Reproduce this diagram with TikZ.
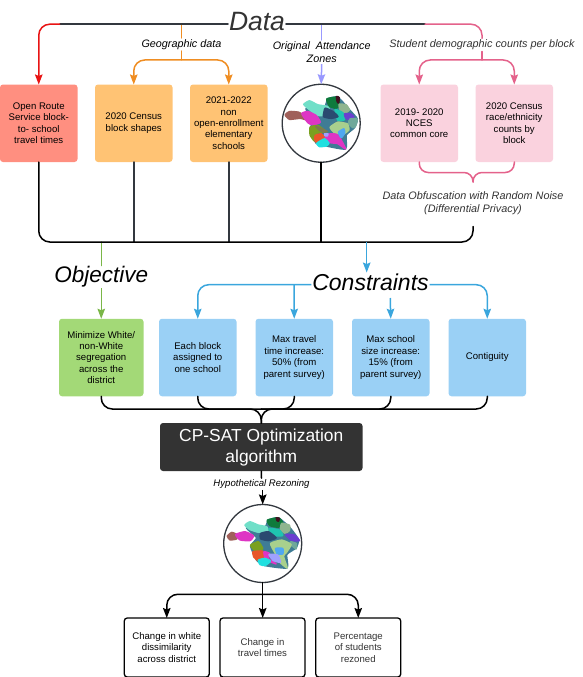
\documentclass[tikz,border=0pt]{standalone}
\usepackage{fontspec}
\setmainfont{Liberation Sans}
\usepackage{xcolor}
\usepackage{tikz}
\usetikzlibrary{arrows.meta,positioning}
\definecolor{ink}{HTML}{33383F}
\definecolor{coal}{HTML}{333333}
\definecolor{redline}{HTML}{E81313}
\definecolor{redfill}{HTML}{FF8F80}
\definecolor{orangeline}{HTML}{EF8D22}
\definecolor{orangefill}{HTML}{FFC374}
\definecolor{pinkline}{HTML}{E4628B}
\definecolor{pinkfill}{HTML}{FAD2DE}
\definecolor{greenline}{HTML}{7AB648}
\definecolor{greenfill}{HTML}{A3D977}
\definecolor{blueline}{HTML}{3AA6DD}
\definecolor{bluefill}{HTML}{9AD0F5}
\definecolor{zoneline}{HTML}{9999FF}
\definecolor{mbrown}{HTML}{A0605A}
\definecolor{mmagenta}{HTML}{DE35C4}
\definecolor{maqua}{HTML}{70DFC8}
\definecolor{mgreen}{HTML}{0E7A3C}
\definecolor{mdark}{HTML}{401020}
\definecolor{msage}{HTML}{8FB58F}
\definecolor{mteal}{HTML}{1FC4B0}
\definecolor{mnavy}{HTML}{2A4A70}
\definecolor{msteel}{HTML}{3F7C95}
\definecolor{mpurple}{HTML}{6A3FD0}
\definecolor{mgrey}{HTML}{6FA89A}
\definecolor{mlime}{HTML}{A8D08D}
\definecolor{molive}{HTML}{7AA020}
\definecolor{mumber}{HTML}{7D7A50}
\definecolor{morange}{HTML}{E8562A}
\definecolor{msky}{HTML}{4FA8F0}
\definecolor{mlav}{HTML}{A0A0FF}
\definecolor{mcyan}{HTML}{20E0E0}
\tikzset{
  box/.style={rectangle, rounded corners=3pt, align=center, outer sep=0pt, inner sep=1pt,
              minimum width=77.5pt, minimum height=77.5pt, font=\fontsize{9.6}{11.4}\selectfont},
  redbox/.style={box, fill=redfill},
  orangebox/.style={box, fill=orangefill},
  pinkbox/.style={box, fill=pinkfill},
  greenbox/.style={box, fill=greenfill, minimum width=84.5pt},
  bluebox/.style={box, fill=bluefill},
  outbox/.style={box, draw=black, fill=white, line width=1.3pt, minimum width=85pt, minimum height=59pt},
  algbox/.style={box, fill=coal, text=white, minimum width=202.5pt, minimum height=48pt,
                 font=\fontsize{17.4}{21}\selectfont},
  mapring/.style={circle, draw=ink, line width=1.3pt, minimum size=78pt, outer sep=0pt, inner sep=0pt},
  lbl/.style={fill=white, align=center, inner sep=1.5pt, outer sep=0pt,
              font=\fontsize{10.8}{13.2}\selectfont\itshape},
  head/.style={fill=white, inner sep=1pt, outer sep=0pt, font=\fontsize{23}{26}\selectfont\itshape},
  flow/.style={-{Stealth[length=10pt,width=7.5pt,inset=1.5pt]}, line width=1.5pt, rounded corners=11pt},
  wire/.style={line width=1.5pt, line cap=round, rounded corners=11pt},
  blob/.style={line join=round, line width=1.6pt}
}
\newcommand{\mapblob}[2]{\filldraw[blob,#1] plot[smooth cycle, tension=.3] coordinates {#2};}
\begin{document}
\begin{tikzpicture}[x=1pt, y=-1pt]
 \useasboundingbox (0,0) rectangle (582,677);
 % data row
 \node[head, text=coal, font=\fontsize{26.5}{30}\selectfont\itshape] (data) at (257,22) {Data};
 \node[redbox] (ors) at (38.75,123.25) {Open Route\\Service block-\\to- school\\travel times};
 \node[orangebox, right=17.5pt of ors] (shapes) {2020 Census\\block shapes};
 \node[orangebox, right=17.5pt of shapes] (schools) {2021-2022\\non\\open-enrollment\\elementary\\schools};
 \node[mapring, right=14.7pt of schools] (zones) {};
 \node[pinkbox, right=20.3pt of zones] (nces) {2019- 2020\\NCES\\common core};
 \node[pinkbox, right=17.5pt of nces] (race) {2020 Census\\race/ethnicity\\counts by\\block};
 \node[lbl] (geo) at (181.5,44.5) {Geographic data};
 \node[lbl] (orig) at (321.7,52) {Original\ \ Attendance\\Zones};
 \node[lbl, text=coal, font=\fontsize{10.85}{13.2}\selectfont\itshape] (counts) at (482,45) {Student demographic counts per block};
 \node[lbl, text=coal, font=\fontsize{10.85}{13.2}\selectfont\itshape] (noise) at (473,203) {Data Obfuscation with Random Noise\\(Differential Privacy)};
 \coordinate (redstart) at (60,24.2);
 \coordinate (pinkstart) at (425,24.2);
 \coordinate (geotop) at (181.5,24.2);
 \coordinate (origtop) at (321.7,24.2);
 \coordinate (counttop) at (482,24.2);
 \coordinate (geosplit) at (181.5,60);
 \coordinate (countsplit) at (482,60);
 \coordinate (noisejoin) at (473,172.5);
 \coordinate (noisetip) at (473,182);
 \coordinate (busend) at (473,226.5);
 \coordinate (buscorner) at (473,242);
 \draw[wire, draw=orangeline] (geo.north) -- (geotop);
 \draw[wire, draw=zoneline] (orig.north) -- (origtop);
 \draw[wire, ink] (data.west |- redstart) -- (redstart);
 \draw[wire, ink] (data.east |- pinkstart) -- (pinkstart);
 \draw[flow, redline] (redstart) -| (ors.north);
 \draw[wire, orangeline] (geo.south) -- (geosplit);
 \draw[flow, orangeline] (geosplit) -| (shapes.north);
 \draw[flow, orangeline] (geosplit) -| (schools.north);
 \draw[flow, zoneline] (orig.south) -- (zones.north);
 \draw[wire, pinkline] (pinkstart) -| (counts.north -| counttop);
 \draw[wire, pinkline] (counts.south -| counttop) -- (countsplit);
 \draw[flow, pinkline] (countsplit) -| (nces.north);
 \draw[flow, pinkline] (countsplit) -| (race.north);
 \draw[wire, pinkline, rounded corners=9pt] (nces.south) |- (noisejoin) -- (noisetip);
 \draw[wire, pinkline, rounded corners=9pt] (race.south) |- (noisejoin) -- (noisetip);
 % the bus under the data row
 \draw[wire, ink] (shapes.south) -- (shapes.south |- buscorner);
 \draw[wire, ink] (schools.south) -- (schools.south |- buscorner);
 \draw[wire, black] (zones.south) -- (zones.south |- buscorner);
 % objective and constraints
 \node[head, text=black, font=\fontsize{22.5}{26}\selectfont\itshape] (objective) at (101.25,277) {Objective};
 \node[head, text=black] (constraints) at (370.5,282) {Constraints};
 \node[greenbox] (minseg) at (101.25,357.5) {Minimize White/\\non-White\\segregation\\across the\\district};
 \node[bluebox, right=15.5pt of minseg] (assign) {Each block\\assigned to\\one school};
 \node[bluebox, right=19pt of assign] (travel) {Max travel\\time increase:\\50\% (from\\parent survey)};
 \node[bluebox, right=19pt of travel] (size) {Max school\\size increase:\\15\% (from\\parent survey)};
 \node[bluebox, right=19pt of size] (contig) {Contiguity};
 \coordinate (objtop) at (101.25,242);
 \coordinate (constop) at (366.7,242);
 \coordinate (sizetop) at (390.25,298);
 \coordinate (consleft) at (294,284.7);
 \draw[wire, draw=greenline] (objective.north) -- (objtop);
 \draw[wire, black] (ors.south) |- (buscorner) -- (busend);
 \draw[flow, greenline] (objective.south) -- (minseg.north);
 \draw[flow, blueline] (constop) -- (constraints.north -| constop);
 \draw[flow, blueline] (constraints.west |- consleft) -| (assign.north);
 \draw[flow, blueline] (consleft) -- (travel.north);
 \draw[flow, blueline] (sizetop) -- (size.north);
 \draw[flow, blueline] (constraints.east |- consleft) -| (contig.north);
 % algorithm
 \node[algbox, anchor=north] (cpsat) at (261.25,423) {CP-SAT Optimization\\algorithm};
 \coordinate (join) at (261.25,409);
 \draw[wire, black] (minseg.south) |- (join) -- (cpsat.north);
 \draw[wire, black] (assign.south) |- (join);
 \draw[wire, black] (travel.south) |- (join);
 \draw[wire, black] (size.south) |- (join) -- (cpsat.north);
 \draw[wire, black] (contig.south) |- (join);
 % rezoning and outcomes
 \node[lbl, font=\fontsize{9.6}{11.4}\selectfont\itshape] (hypo) at (261.5,484) {Hypothetical Rezoning};
 \node[mapring] (rezoned) at (262.7,543.5) {};
 \node[outbox] (dissim) at (166.75,647.5) {Change in white\\dissimilarity\\across district};
 \node[outbox, text=coal, right=10.75pt of dissim] (times) {Change in\\travel times};
 \node[outbox, text=coal, right=10.75pt of times] (pct) {Percentage\\of students\\rezoned};
 \coordinate (outsplit) at (262.7,594.3);
 \draw[wire, black] (cpsat.south) -- (hypo.north);
 \draw[flow, black] (hypo.south -| rezoned.north) -- (rezoned.north);
 \draw[wire, black] (rezoned.south) -- (outsplit);
 \draw[flow, black] (outsplit) -| (dissim.north);
 \draw[flow, black] (outsplit) -- (times.north -| outsplit);
 \draw[flow, black] (outsplit) -| (pct.north);
 % the two district maps
 \begin{scope}[shift={(zones.center)}, x=.3333pt, y=-.3333pt, shift={(-140,-145)}]
  \mapblob{msteel}{(95,100)(150,95)(160,72)(190,67)(225,105)(248,132)(240,158)(215,180)(213,222)(155,213)(125,205)(107,160)(125,130)(105,118)}
  \mapblob{mbrown}{(32,120)(45,110)(72,112)(92,124)(100,136)(78,130)(45,133)}
  \mapblob{maqua}{(88,88)(105,78)(130,90)(160,95)(165,112)(145,122)(125,120)(100,100)}
  \mapblob{mmagenta}{(82,116)(100,110)(125,122)(137,142)(115,150)(100,143)}
  \mapblob{mgreen}{(157,72)(190,67)(195,90)(185,100)(165,94)}
  \mapblob{mdark}{(186,65)(194,68)(192,84)(188,80)}
  \mapblob{msage}{(194,88)(215,90)(224,105)(210,115)(197,105)}
  \mapblob{mteal}{(182,104)(205,114)(210,134)(190,136)}
  \mapblob{mnavy}{(152,100)(175,110)(190,125)(170,130)(147,125)}
  \mapblob{mpurple}{(210,117)(228,117)(238,125)(225,133)(214,130)}
  \mapblob{mgrey}{(227,132)(248,132)(243,153)(235,158)(222,145)}
  \mapblob{mlime}{(167,157)(190,142)(218,147)(223,165)(205,178)(180,173)}
  \mapblob{molive}{(107,157)(130,152)(153,170)(130,173)(120,198)(107,180)}
  \mapblob{mumber}{(124,154)(148,164)(158,170)(140,170)}
  \mapblob{morange}{(122,182)(140,177)(150,190)(130,203)(122,198)}
  \mapblob{mmagenta}{(160,178)(185,178)(198,192)(213,222)(190,206)(167,203)(152,190)}
  \mapblob{msky}{(192,172)(208,162)(210,175)(200,188)}
  \mapblob{mlav}{(150,177)(160,177)(158,183)(152,183)}
  \mapblob{mcyan}{(127,205)(150,192)(163,205)(155,213)(135,215)}
 \end{scope}
 \begin{scope}[shift={(rezoned.center)}, x=.3333pt, y=-.3333pt, shift={(-143,-147)}]
  \mapblob{msteel}{(95,100)(150,97)(160,77)(190,70)(225,100)(250,135)(243,160)(215,180)(216,220)(150,213)(125,197)(107,155)(125,130)}
  \mapblob{mbrown}{(37,125)(50,114)(65,120)(65,133)(45,136)}
  \mapblob{mmagenta}{(62,120)(90,112)(115,124)(105,138)(75,136)}
  \mapblob{maqua}{(90,92)(105,82)(130,92)(155,97)(158,110)(130,113)(105,105)}
  \mapblob{mgreen}{(157,77)(190,70)(203,85)(190,98)(165,93)}
  \mapblob{mdark}{(184,70)(193,72)(190,80)(186,78)}
  \mapblob{msage}{(200,87)(223,92)(223,108)(210,116)(197,105)}
  \mapblob{mteal}{(162,102)(193,107)(203,123)(175,123)}
  \mapblob{mnavy}{(137,117)(160,112)(183,130)(160,138)(137,133)}
  \mapblob{mpurple}{(212,120)(238,122)(253,138)(230,138)}
  \mapblob{mgrey}{(227,142)(243,147)(243,163)(227,150)}
  \mapblob{molive}{(107,152)(130,142)(143,163)(120,168)}
  \mapblob{mlime}{(167,147)(200,137)(228,150)(213,175)(205,185)(216,220)(195,203)(180,175)}
  \mapblob{msky}{(182,162)(203,162)(203,178)(187,178)}
  \mapblob{morange}{(114,172)(143,170)(148,188)(130,198)(117,188)}
  \mapblob{mmagenta}{(147,172)(163,177)(160,193)(183,208)(152,195)}
  \mapblob{mlav}{(162,180)(188,182)(196,203)(175,198)}
  \mapblob{mcyan}{(130,197)(150,192)(166,200)(150,213)(135,210)}
 \end{scope}
\end{tikzpicture}
\end{document}
